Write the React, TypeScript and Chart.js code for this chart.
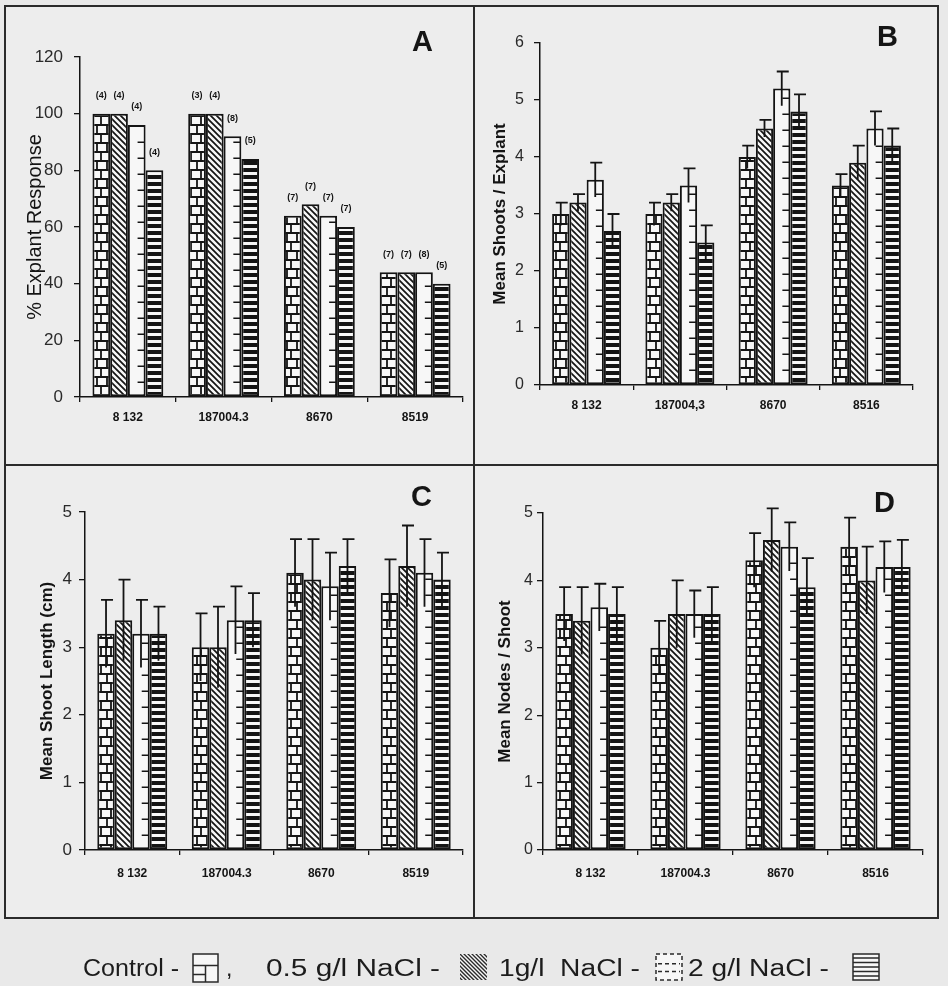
import React, { useEffect, useRef } from "react";
import { Chart, registerables } from "chart.js";
Chart.register(...registerables);

const FONT = "'Liberation Sans', Arial, sans-serif";
const NARROW = "'Liberation Sans Narrow', 'Liberation Sans', Arial, sans-serif";

const seriesNames = ["Control", "0.5 g/l NaCl", "1g/l NaCl", "2 g/l NaCl"];

const genotypesA = ["8 132", "187004.3", "8670", "8519"];
const genotypesB = ["8 132", "187004,3", "8670", "8516"];
const genotypesC = ["8 132", "187004.3", "8670", "8519"];
const genotypesD = ["8 132", "187004.3", "8670", "8516"];

// A: % explant response
const responseControl = [100, 100, 64, 44];
const response05 = [100, 100, 68, 44];
const response1 = [96, 92, 64, 44];
const response2 = [80, 84, 60, 40];
const nControl = ["(4)", "(3)", "(7)", "(7)"];
const n05 = ["(4)", "(4)", "(7)", "(7)"];
const n1 = ["(4)", "(8)", "(7)", "(8)"];
const n2 = ["(4)", "(5)", "(7)", "(5)"];

// B: mean shoots / explant
const shootsControl = [3.0, 3.0, 4.0, 3.5];
const shoots05 = [3.2, 3.2, 4.5, 3.9];
const shoots1 = [3.6, 3.5, 5.2, 4.5];
const shoots2 = [2.7, 2.5, 4.8, 4.2];
const shootsSeControl = [0.2, 0.2, 0.2, 0.2];
const shootsSe05 = [0.15, 0.15, 0.15, 0.3];
const shootsSe1 = [0.3, 0.3, 0.3, 0.3];
const shootsSe2 = [0.3, 0.3, 0.3, 0.3];

// C: mean shoot length (cm)
const lengthControl = [3.2, 3.0, 4.1, 3.8];
const length05 = [3.4, 3.0, 4.0, 4.2];
const length1 = [3.2, 3.4, 3.9, 4.1];
const length2 = [3.2, 3.4, 4.2, 4.0];
const lengthSeControl = [0.5, 0.5, 0.5, 0.5];
const lengthSe05 = [0.6, 0.6, 0.6, 0.6];
const lengthSe1 = [0.5, 0.5, 0.5, 0.5];
const lengthSe2 = [0.4, 0.4, 0.4, 0.4];

// D: mean nodes / shoot
const nodesControl = [3.5, 3.0, 4.3, 4.5];
const nodes05 = [3.4, 3.5, 4.6, 4.0];
const nodes1 = [3.6, 3.5, 4.5, 4.2];
const nodes2 = [3.5, 3.5, 3.9, 4.2];
const nodesSeControl = [0.4, 0.4, 0.4, 0.43];
const nodesSe05 = [0.5, 0.5, 0.47, 0.5];
const nodesSe1 = [0.35, 0.35, 0.36, 0.38];
const nodesSe2 = [0.4, 0.4, 0.43, 0.4];

const legendLabels = ["Control -", "0.5 g/l NaCl -", "1g/l  NaCl -", "2 g/l NaCl -"];

type Panel = {
  letter: string;
  labels: string[];
  series: number[][];
  errors?: number[][];
  counts?: string[][];
  yMax: number;
  yStep: number;
  yTitle: string;
};

const panels: Panel[] = [
  {
    letter: "A",
    labels: genotypesA,
    series: [responseControl, response05, response1, response2],
    counts: [nControl, n05, n1, n2],
    yMax: 120,
    yStep: 20,
    yTitle: "% Explant Response",
  },
  {
    letter: "B",
    labels: genotypesB,
    series: [shootsControl, shoots05, shoots1, shoots2],
    errors: [shootsSeControl, shootsSe05, shootsSe1, shootsSe2],
    yMax: 6,
    yStep: 1,
    yTitle: "Mean Shoots / Explant",
  },
  {
    letter: "C",
    labels: genotypesC,
    series: [lengthControl, length05, length1, length2],
    errors: [lengthSeControl, lengthSe05, lengthSe1, lengthSe2],
    yMax: 5,
    yStep: 1,
    yTitle: "Mean Shoot Length (cm)",
  },
  {
    letter: "D",
    labels: genotypesD,
    series: [nodesControl, nodes05, nodes1, nodes2],
    errors: [nodesSeControl, nodesSe05, nodesSe1, nodesSe2],
    yMax: 5,
    yStep: 1,
    yTitle: "Mean Nodes / Shoot",
  },
];

// layout (page pixels)
type Box = {
  left: number; top: number; w: number; h: number;
  aL: number; aR: number; aT: number; aB: number;
  tickSize: number; tickPad: number; xPad: number;
  titleSize: number; titleWeight: string; titlePad: number;
  letterX: number; letterY: number;
};
const boxes: Box[] = [
  { left: 6, top: 7, w: 467, h: 457, aL: 74, aR: 457, aT: 50, aB: 390, tickSize: 17, tickPad: 11, xPad: 8, titleSize: 20, titleWeight: "normal", titlePad: 17, letterX: 412, letterY: 26 },
  { left: 475, top: 7, w: 462, h: 457, aL: 65, aR: 438, aT: 36, aB: 378, tickSize: 16, tickPad: 10, xPad: 8, titleSize: 17, titleWeight: "bold", titlePad: 15, letterX: 877, letterY: 21 },
  { left: 6, top: 466, w: 467, h: 451, aL: 79, aR: 457, aT: 46, aB: 384, tickSize: 17, tickPad: 7, xPad: 11, titleSize: 17, titleWeight: "bold", titlePad: 31, letterX: 411, letterY: 481 },
  { left: 475, top: 466, w: 462, h: 451, aL: 68, aR: 448, aT: 47, aB: 384, tickSize: 16, tickPad: 4, xPad: 11, titleSize: 17, titleWeight: "bold", titlePad: 20, letterX: 874, letterY: 487 },
];

const INK = "#141414";
const PAPER = "#f7f7f7";

function makePattern(kind: number): CanvasPattern | string {
  const c = document.createElement("canvas");
  const ctx = c.getContext("2d")!;
  if (kind === 0) {
    c.width = 10; c.height = 18;
    ctx.fillStyle = PAPER; ctx.fillRect(0, 0, 10, 18);
    ctx.strokeStyle = INK; ctx.lineWidth = 1.8;
    ctx.beginPath();
    ctx.moveTo(0, 1); ctx.lineTo(10, 1);
    ctx.moveTo(0, 10); ctx.lineTo(10, 10);
    ctx.moveTo(5, 1); ctx.lineTo(5, 10);
    ctx.moveTo(1, 10); ctx.lineTo(1, 18);
    ctx.stroke();
  } else if (kind === 1) {
    c.width = 6; c.height = 6;
    ctx.fillStyle = PAPER; ctx.fillRect(0, 0, 6, 6);
    ctx.strokeStyle = INK; ctx.lineWidth = 1.7;
    ctx.beginPath();
    ctx.moveTo(-1, -1); ctx.lineTo(7, 7);
    ctx.moveTo(5, -1); ctx.lineTo(7, 1);
    ctx.moveTo(-1, 5); ctx.lineTo(1, 7);
    ctx.stroke();
  } else if (kind === 3) {
    c.width = 4; c.height = 7;
    ctx.fillStyle = PAPER; ctx.fillRect(0, 0, 4, 7);
    ctx.fillStyle = INK; ctx.fillRect(0, 0, 4, 4);
  } else {
    return PAPER;
  }
  return ctx.createPattern(c, "repeat")!;
}

function decorPlugin(panel: Panel) {
  return {
    id: "decor" + panel.letter,
    afterDatasetsDraw(chart: any) {
      const ctx: CanvasRenderingContext2D = chart.ctx;
      const ys = chart.scales.y;
      ctx.save();
      chart.data.datasets.forEach((ds: any, di: number) => {
        const meta = chart.getDatasetMeta(di);
        meta.data.forEach((bar: any, i: number) => {
          const { x, y, base, width } = bar.getProps(["x", "y", "base", "width"], true);
          const right = x + width / 2;
          if (di === 2) {
            ctx.strokeStyle = INK; ctx.lineWidth = 1.5;
            ctx.beginPath();
            for (let yy = base - 14; yy > y + 6; yy -= 16) {
              ctx.moveTo(right - 8, yy); ctx.lineTo(right - 1, yy);
            }
            ctx.stroke();
          }
          if (panel.errors) {
            const v = ds.data[i];
            const se = panel.errors[di][i];
            const yt = ys.getPixelForValue(v + se);
            const yb = ys.getPixelForValue(v - se);
            ctx.strokeStyle = INK; ctx.lineWidth = 1.8;
            ctx.beginPath();
            ctx.moveTo(x, yb); ctx.lineTo(x, yt);
            ctx.moveTo(x - 5, yt); ctx.lineTo(x + 7, yt);
            ctx.stroke();
          }
          if (panel.counts) {
            ctx.fillStyle = INK;
            ctx.font = "bold 9px " + FONT;
            ctx.textAlign = "center";
            ctx.textBaseline = "middle";
            ctx.fillText(panel.counts[di][i], x, y - 18);
          }
        });
      });
      ctx.restore();
    },
  };
}

function PanelChart({ panel, box }: { panel: Panel; box: Box }) {
  const ref = useRef<HTMLCanvasElement>(null);
  useEffect(() => {
    const pats = [makePattern(0), makePattern(1), makePattern(2), makePattern(3)];
    const chart = new Chart(ref.current!, {
      type: "bar",
      data: {
        labels: panel.labels,
        datasets: panel.series.map((d, i) => ({
          label: seriesNames[i],
          data: d,
          backgroundColor: pats[i] as any,
          borderColor: INK,
          borderWidth: 2,
          borderSkipped: false,
          barPercentage: 1,
          categoryPercentage: 0.74,
        })),
      },
      options: {
        animation: false,
        responsive: true,
        maintainAspectRatio: false,
        events: [],
        layout: { padding: { top: box.aT, right: box.w - box.aR, left: 0, bottom: 0 } },
        plugins: { legend: { display: false }, tooltip: { enabled: false } },
        scales: {
          x: {
            grid: { display: true, drawOnChartArea: false, offset: true, tickLength: 5, color: INK, lineWidth: 1.3 },
            border: { display: true, color: INK, width: 1.5 },
            ticks: { color: INK, font: { family: FONT, size: 12, weight: "bold" }, padding: box.xPad, maxRotation: 0, autoSkip: false },
            afterFit: (s: any) => { s.height = box.h - box.aB; },
          },
          y: {
            min: 0,
            max: panel.yMax,
            ticks: { stepSize: panel.yStep, color: "#2a2a2a", font: { family: FONT, size: box.tickSize }, padding: box.tickPad },
            grid: { display: true, drawOnChartArea: false, tickLength: 6, color: INK, lineWidth: 1.3 },
            border: { display: true, color: INK, width: 1.5 },
            title: {
              display: true,
              text: panel.yTitle,
              color: INK,
              font: { family: FONT, size: box.titleSize, weight: box.titleWeight as any },
              padding: { top: box.titlePad, bottom: 0 },
            },
            afterFit: (s: any) => { s.width = box.aL; },
          },
        },
      } as any,
      plugins: [decorPlugin(panel)],
    });
    return () => chart.destroy();
  }, []);
  return (
    <div style={{ position: "absolute", left: box.left, top: box.top, width: box.w, height: box.h }}>
      <canvas ref={ref} />
    </div>
  );
}

function Swatch({ kind, left, top, w, h }: { kind: number; left: number; top: number; w: number; h: number }) {
  const ref = useRef<HTMLCanvasElement>(null);
  useEffect(() => {
    const ctx = ref.current!.getContext("2d")!;
    ctx.clearRect(0, 0, w, h);
    ctx.strokeStyle = "#2a2a2a";
    ctx.lineWidth = 1.5;
    if (kind === 0) {
      ctx.fillStyle = PAPER; ctx.fillRect(1, 1, w - 2, h - 2);
      ctx.strokeRect(1, 1, w - 2, h - 2);
      ctx.beginPath();
      ctx.moveTo(1, h * 0.42); ctx.lineTo(w - 1, h * 0.42);
      ctx.moveTo(w * 0.5, h * 0.42); ctx.lineTo(w * 0.5, h - 1);
      ctx.moveTo(1, h * 0.72); ctx.lineTo(w * 0.5, h * 0.72);
      ctx.stroke();
    } else if (kind === 1) {
      ctx.save();
      ctx.beginPath(); ctx.rect(1, 1, w - 2, h - 2); ctx.clip();
      ctx.fillStyle = PAPER; ctx.fillRect(0, 0, w, h);
      ctx.beginPath();
      for (let k = -h; k < w + h; k += 4) {
        ctx.moveTo(k, 0); ctx.lineTo(k + h, h);
      }
      ctx.lineWidth = 1.4;
      ctx.stroke();
      ctx.restore();
    } else if (kind === 2) {
      ctx.fillStyle = PAPER; ctx.fillRect(1, 1, w - 2, h - 2);
      ctx.setLineDash([4, 3]);
      ctx.strokeRect(1, 1, w - 2, h - 2);
      ctx.beginPath();
      ctx.moveTo(3, h * 0.38); ctx.lineTo(w - 3, h * 0.38);
      ctx.moveTo(3, h * 0.66); ctx.lineTo(w - 3, h * 0.66);
      ctx.stroke();
      ctx.setLineDash([]);
    } else {
      ctx.fillStyle = PAPER; ctx.fillRect(1, 1, w - 2, h - 2);
      ctx.strokeRect(1, 1, w - 2, h - 2);
      ctx.beginPath();
      for (let yy = 5; yy < h - 2; yy += 4.5) {
        ctx.moveTo(1, yy); ctx.lineTo(w - 1, yy);
      }
      ctx.stroke();
    }
  }, []);
  return <canvas ref={ref} width={w} height={h} style={{ position: "absolute", left, top, width: w, height: h }} />;
}

// legend text placement: [x, width]
const legendTextBoxes: [number, number][] = [
  [83, 96],
  [266, 174],
  [499, 141],
  [688, 141],
];

export default function App() {
  const line = (s: React.CSSProperties) => <div style={{ position: "absolute", background: "#2b2b2b", ...s }} />;
  return (
    <div style={{ position: "absolute", left: 0, top: 0, width: 948, height: 986, background: "#e9e9e9", overflow: "hidden", fontFamily: FONT }}>
      <div style={{ position: "absolute", left: 5, top: 6, width: 933, height: 912, background: "#ededed" }} />
      {panels.map((p, i) => (
        <PanelChart key={p.letter} panel={p} box={boxes[i]} />
      ))}
      {panels.map((p, i) => (
        <div key={"L" + p.letter} style={{ position: "absolute", left: boxes[i].letterX, top: boxes[i].letterY, fontSize: 29, fontWeight: "bold", color: "#151515", lineHeight: "30px" }}>
          {p.letter}
        </div>
      ))}
      {line({ left: 5, top: 5, width: 934, height: 2 })}
      {line({ left: 5, top: 917, width: 934, height: 2 })}
      {line({ left: 4, top: 5, width: 1.5, height: 914 })}
      {line({ left: 937, top: 5, width: 1.5, height: 914 })}
      {line({ left: 473, top: 5, width: 1.5, height: 914 })}
      {line({ left: 5, top: 464, width: 934, height: 1.5 })}

      <svg width={948} height={986} style={{ position: "absolute", left: 0, top: 0 }}>
        {legendLabels.map((t, i) => (
          <text
            key={t}
            x={legendTextBoxes[i][0]}
            y={976}
            textLength={legendTextBoxes[i][1]}
            lengthAdjust="spacingAndGlyphs"
            fontFamily={NARROW}
            fontSize={23}
            fill="#1c1c1c"
            style={{ whiteSpace: "pre" }}
          >
            {t}
          </text>
        ))}
        <text x={226} y={976} fontFamily={NARROW} fontSize={23} fill="#1c1c1c">,</text>
      </svg>
      <Swatch kind={0} left={192} top={953} w={27} h={30} />
      <Swatch kind={1} left={459} top={953} w={29} h={28} />
      <Swatch kind={2} left={655} top={953} w={28} h={28} />
      <Swatch kind={3} left={852} top={953} w={28} h={28} />
    </div>
  );
}
